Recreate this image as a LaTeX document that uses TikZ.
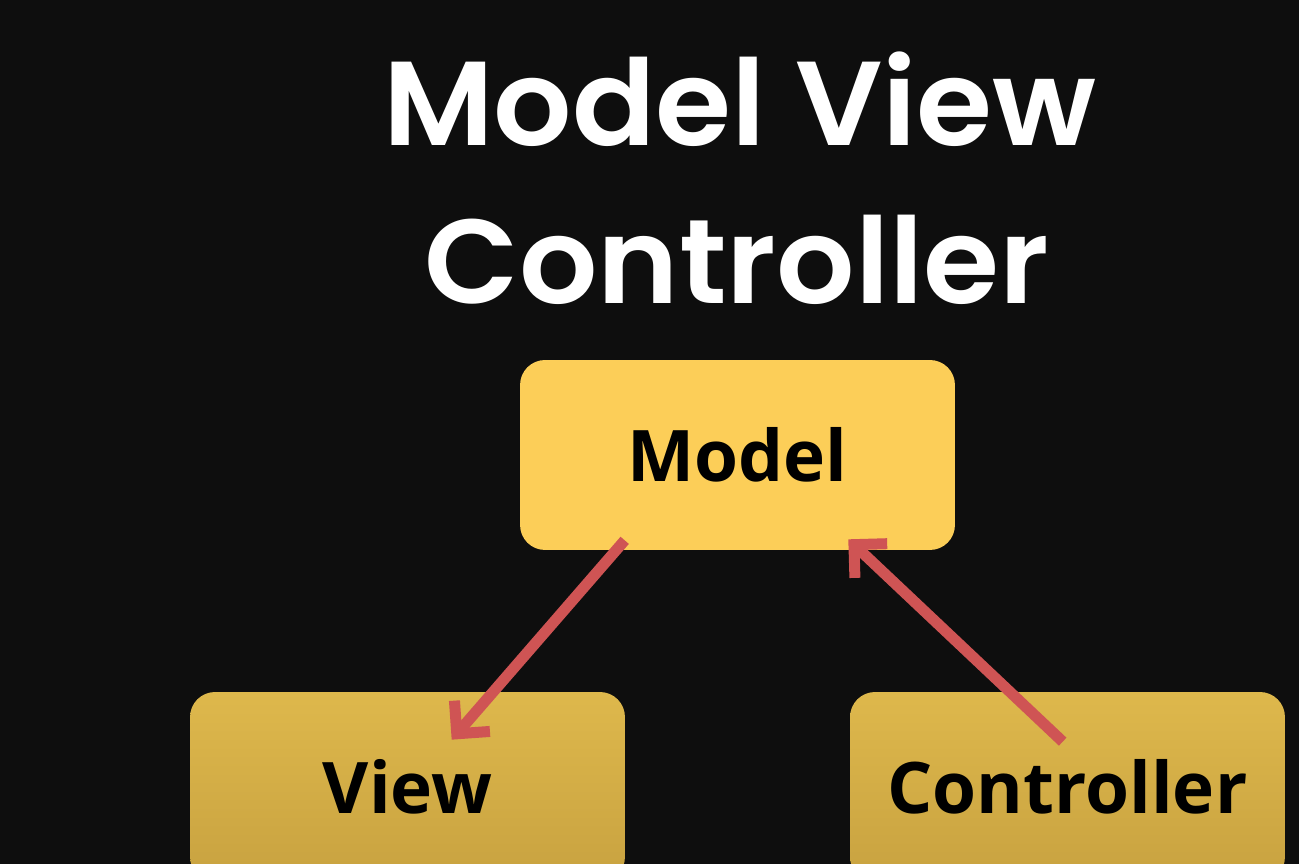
\documentclass[tikz,border=0pt]{standalone}
\usepackage{fontspec}
\newfontfamily\titlefont{Poppins SemiBold}
\newfontfamily\boxfont{Open Sans}
\usetikzlibrary{arrows.meta,calc}
\definecolor{bgdark}{RGB}{14,14,14}
\definecolor{modelyellow}{RGB}{252,206,88}
\definecolor{boxtop}{RGB}{222,184,76}
\definecolor{boxbottom}{RGB}{200,162,64}
\definecolor{arrowred}{RGB}{207,84,84}
\tikzset{>=latex}
\tikzset{
  titletext/.style={anchor=base,text=white,xscale=1.03,font=\titlefont\fontsize{68}{76}\selectfont},
  mvcbox/.style={rounded corners=0.5cm,minimum width=8.7cm,minimum height=3.8cm,
    font=\boxfont\bfseries\fontsize{40.5}{48}\selectfont,text=black},
  mvcarrow/.style={line width=0.22cm,draw=arrowred,
    -{Straight Barb[length=0.47cm,width=0.94cm,line join=miter,line cap=butt]}},
}

\begin{document}
\begin{tikzpicture}[x=0.02cm,y=-0.02cm]
  % Background
  \fill[bgdark] (0,0) rectangle (1299,864);
  \useasboundingbox (0,0) rectangle (1299,864);

  % Title
  \node[titletext] (title1) at (740,146) {Model View};
  \node[titletext] (title2) at (737,304) {Controller};

  % Boxes
  \begin{scope}
    \clip (0,0) rectangle (1299,864);
    \node[mvcbox,fill=modelyellow] (model) at (737.5,455) {Model};
    \node[mvcbox,top color=boxtop,bottom color=boxbottom] (view) at (407.5,787) {View};
    \node[mvcbox,top color=boxtop,bottom color=boxbottom] (controller) at (1067.5,787) {Controller};
  \end{scope}

  % Arrows
  \draw[mvcarrow] ([shift={(105,-10)}]model.south west) -- ([shift={(262,48)}]view.north west);
  \draw[mvcarrow] ([shift={(213,50)}]controller.north west) -- ([shift={(-107,-11)}]model.south east);
\end{tikzpicture}
\end{document}
